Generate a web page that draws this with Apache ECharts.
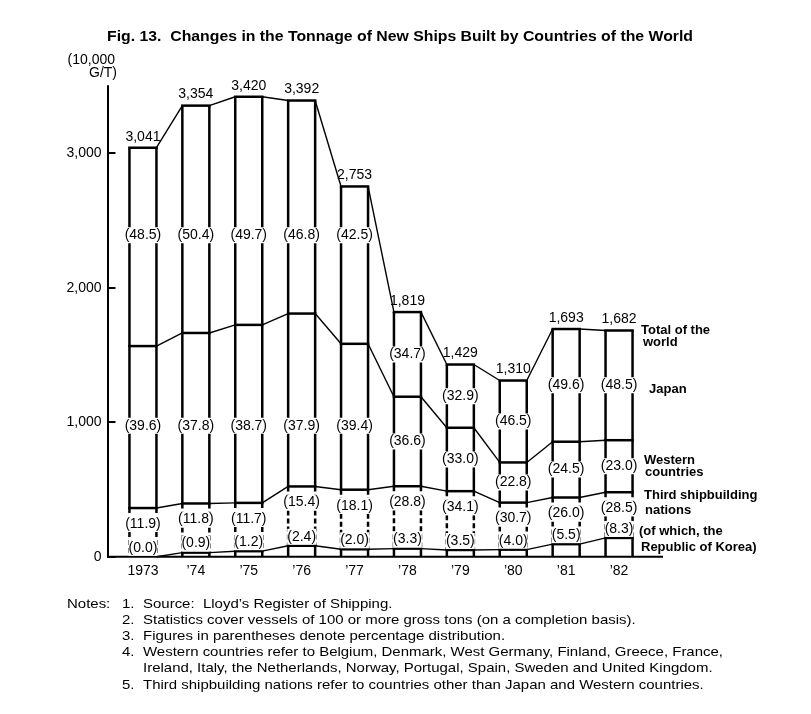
<!DOCTYPE html>
<html><head><meta charset="utf-8">
<script src="https://cdn.jsdelivr.net/npm/echarts@6/dist/echarts.min.js"></script>
<style>html,body{margin:0;padding:0;background:#fff}#c{width:811px;height:714px}</style>
</head><body><div id="c"></div>
<script>
// ---- data ----
const years = ['1973', '\u201974', '\u201975', '\u201976', '\u201977', '\u201978', '\u201979', '\u201980', '\u201981', '\u201982'];
const totals = [3041, 3354, 3420, 3392, 2753, 1819, 1429, 1310, 1693, 1682];
const japanPct = [48.5, 50.4, 49.7, 46.8, 42.5, 34.7, 32.9, 46.5, 49.6, 48.5];
const westernPct = [39.6, 37.8, 38.7, 37.9, 39.4, 36.6, 33.0, 22.8, 24.5, 23.0];
const thirdPct = [11.9, 11.8, 11.7, 15.4, 18.1, 28.8, 34.1, 30.7, 26.0, 28.5];
const koreaPct = [0.0, 0.9, 1.2, 2.4, 2.0, 3.3, 3.5, 4.0, 5.5, 8.3];
const yTicks = [0, 1000, 2000, 3000];
const titleText = 'Fig. 13.  Changes in the Tonnage of New Ships Built by Countries of the World';
const unitLines = ['(10,000', 'G/T)'];
const notes = [
  ['Notes:', '1.', 'Source:  Lloyd\u2019s Register of Shipping.'],
  ['', '2.', 'Statistics cover vessels of 100 or more gross tons (on a completion basis).'],
  ['', '3.', 'Figures in parentheses denote percentage distribution.'],
  ['', '4.', 'Western countries refer to Belgium, Denmark, West Germany, Finland, Greece, France,'],
  ['', '', 'Ireland, Italy, the Netherlands, Norway, Portugal, Spain, Sweden and United Kingdom.'],
  ['', '5.', 'Third shipbuilding nations refer to countries other than Japan and Western countries.']
];
const seriesNames = [['Total of the', 'world'], ['Japan'], ['Western', 'countries'], ['Third shipbuilding', 'nations'], ['(of which, the', 'Republic of Korea)']];

// ---- derived stack levels ----
const korea = totals.map((t, i) => t * koreaPct[i] / 100);
const thirdTop = totals.map((t, i) => t * thirdPct[i] / 100);
const westTop = totals.map((t, i) => t * (thirdPct[i] + westernPct[i]) / 100);
const levels = [totals, westTop, thirdTop, korea];

// ---- styles ----
const FONT = '"Liberation Sans", Arial, Helvetica, sans-serif';
const BW = 27;
const LW = 2.5;
const fmt = v => v.toLocaleString('en-US');

const mctx = document.createElement('canvas').getContext('2d');
function measure(text, font) { mctx.font = font; return mctx.measureText(text).width; }

const titleFont = 'bold 15px ' + FONT;
const titleScale = 586 / measure(titleText, titleFont);
const noteFont = '13px ' + FONT;
const noteScale = 580 / measure(notes[3][2], noteFont);

const graphics = [];
graphics.push({ type: 'text', x: 107, y: 37, scaleX: titleScale, style: { text: titleText, font: titleFont, fill: '#000', verticalAlign: 'middle' } });
graphics.push({ type: 'text', x: 115, y: 60, style: { text: unitLines[0], font: '14px ' + FONT, fill: '#000', align: 'right', verticalAlign: 'middle' } });
graphics.push({ type: 'text', x: 117, y: 73, style: { text: unitLines[1], font: '14px ' + FONT, fill: '#000', align: 'right', verticalAlign: 'middle' } });
graphics.push({ type: 'line', shape: { x1: 107, y1: 556.7, x2: 663, y2: 556.7 }, style: { stroke: '#000', lineWidth: 2 } });
const annPos = [[[641, 330], [643, 342]], [[649, 389]], [[644, 460], [645, 472]], [[644, 495], [645, 510]], [[639, 531], [641, 547]]];
seriesNames.forEach((lines, k) => lines.forEach((t, j) => {
  graphics.push({ type: 'text', x: annPos[k][j][0], y: annPos[k][j][1], style: { text: t, font: 'bold 13px ' + FONT, fill: '#000', verticalAlign: 'middle' } });
}));
notes.forEach((row, r) => {
  const yy = 604 + r * 16.2;
  if (row[0]) graphics.push({ type: 'text', x: 67, y: yy, scaleX: noteScale, style: { text: row[0], font: noteFont, fill: '#000', verticalAlign: 'middle' } });
  if (row[1]) graphics.push({ type: 'text', x: 122, y: yy, scaleX: noteScale, style: { text: row[1], font: noteFont, fill: '#000', verticalAlign: 'middle' } });
  graphics.push({ type: 'text', x: 143, y: yy, scaleX: noteScale, style: { text: row[2], font: noteFont, fill: '#000', verticalAlign: 'middle' } });
});

const chart = echarts.init(document.getElementById('c'), null, { renderer: 'canvas' });
chart.setOption({
  animation: false,
  backgroundColor: '#fff',
  grid: { left: 116.5, right: 165.5, top: 86, bottom: 157.3, containLabel: false },
  xAxis: {
    type: 'category', data: years,
    axisLine: { show: false }, axisTick: { show: false },
    axisLabel: { margin: 7, fontSize: 14, fontFamily: FONT, color: '#000' }
  },
  yAxis: {
    type: 'value', min: 0, max: 3500, interval: 1000, offset: 9,
    axisLine: { show: true, lineStyle: { color: '#000', width: 2 } },
    axisTick: { show: true, inside: true, length: 8, lineStyle: { color: '#000', width: 2 }, customValues: yTicks },
    axisLabel: { customValues: yTicks, fontSize: 14, fontFamily: FONT, color: '#000', margin: 6, formatter: v => fmt(v) },
    splitLine: { show: false }
  },
  graphic: graphics,
  series: [
    {
      type: 'custom', name: 'stacked bars', silent: true, clip: false, z: 2,
      data: years.map((_, i) => [i, totals[i]]),
      encode: { x: 0, y: 1 },
      renderItem(params, api) {
        const i = params.dataIndex;
        const cx = api.coord([i, 0])[0];
        const xl = cx - BW / 2, xr = cx + BW / 2;
        const py = v => api.coord([i, v])[1];
        const solid = { stroke: '#000', lineWidth: LW };
        const dashed = { stroke: '#000', lineWidth: LW, lineDash: [5, 3] };
        const kids = [];
        const hline = v => kids.push({ type: 'line', shape: { x1: xl - LW / 2, y1: py(v), x2: xr + LW / 2, y2: py(v) }, style: solid });
        const sides = (a, b, st) => {
          kids.push({ type: 'line', shape: { x1: xl, y1: py(a), x2: xl, y2: py(b) }, style: st });
          kids.push({ type: 'line', shape: { x1: xr, y1: py(a), x2: xr, y2: py(b) }, style: st });
        };
        sides(totals[i], thirdTop[i], solid);
        sides(thirdTop[i], korea[i], dashed);
        if (korea[i] > 0) sides(korea[i], 0, solid);
        hline(totals[i]); hline(westTop[i]); hline(thirdTop[i]);
        if (korea[i] > 0) hline(korea[i]);
        return { type: 'group', children: kids };
      }
    },
    {
      type: 'custom', name: 'connectors', silent: true, clip: false, z: 2,
      data: years.slice(0, -1).map((_, i) => [i, totals[i]]),
      encode: { x: 0, y: 1 },
      renderItem(params, api) {
        const i = params.dataIndex;
        const xa = api.coord([i, 0])[0] + BW / 2;
        const xb = api.coord([i + 1, 0])[0] - BW / 2;
        return {
          type: 'group',
          children: levels.map(L => ({
            type: 'line',
            shape: { x1: xa, y1: api.coord([i, L[i]])[1], x2: xb, y2: api.coord([i + 1, L[i + 1]])[1] },
            style: { stroke: '#000', lineWidth: 1.4 }
          }))
        };
      }
    },
    {
      type: 'custom', name: 'labels', silent: true, clip: false, z: 5,
      data: years.map((_, i) => [i, totals[i]]),
      encode: { x: 0, y: 1 },
      renderItem(params, api) {
        const i = params.dataIndex;
        const x = api.coord([i, 0])[0];
        const py = v => api.coord([i, v])[1];
        const pct = a => '(' + a[i].toFixed(1) + ')';
        const rowOrMid = (lo, hi, row) => (row - lo >= 250 && hi - row >= 250) ? row : (lo + hi) / 2;
        const txt = (text, yy, bg) => ({
          type: 'text',
          style: { text, x, y: yy, align: 'center', verticalAlign: 'middle', font: '14px ' + FONT, fill: '#000', backgroundColor: bg ? '#fff' : null, padding: bg ? [1, 0, 1, 0] : 0 }
        });
        return {
          type: 'group',
          children: [
            txt(fmt(totals[i]), py(totals[i]) - 11, false),
            txt(pct(japanPct), py(rowOrMid(westTop[i], totals[i], 2390)), true),
            txt(pct(westernPct), py(rowOrMid(thirdTop[i], westTop[i], 974)), true),
            txt(pct(thirdPct), py(thirdTop[i]) + 16, true),
            txt(pct(koreaPct), py(korea[i]) - 9, true)
          ]
        };
      }
    }
  ]
});
</script>
</body></html>
